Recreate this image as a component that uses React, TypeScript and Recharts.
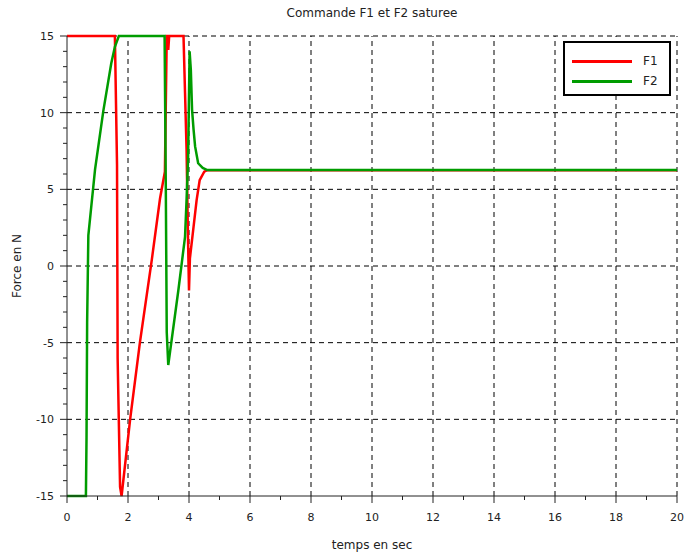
import React from "react";
import { LineChart, Line, XAxis, YAxis, Legend, ReferenceLine, Label } from "recharts";

// F1 (red)
const f1Time = [0, 1.57, 1.64, 1.66, 1.74, 1.79, 2.07, 2.39, 2.78, 3.05, 3.21, 3.27, 3.3, 3.32, 3.35, 3.82, 3.87, 3.92, 3.96, 4.0, 4.03, 4.1, 4.25, 4.35, 4.5, 4.6, 20];
const f1Force = [15, 15, 6.6, -6, -14.4, -15, -10, -5, 0.4, 4.4, 6.15, 15, 15, 14.1, 15, 15, 11.3, 7.6, 2.6, -1.6, 0.5, 1.7, 4.3, 5.6, 6.15, 6.25, 6.25];

// F2 (green)
const f2Time = [0, 0.62, 0.64, 0.66, 0.7, 0.92, 1.19, 1.45, 1.57, 1.7, 3.2, 3.24, 3.27, 3.32, 3.65, 3.87, 3.92, 3.97, 4.02, 4.06, 4.1, 4.15, 4.2, 4.3, 4.45, 4.6, 20];
const f2Force = [-15, -15, -11.2, -3.7, 2.0, 6.3, 10.1, 13.2, 14.3, 15, 15, 5, -4.3, -6.46, -1.6, 1.9, 4.3, 7, 14, 12.8, 10.2, 8.9, 7.8, 6.7, 6.4, 6.26, 6.26];

const xTicks = Array.from({ length: 21 }, (_, i) => i);
const yTicks = Array.from({ length: 31 }, (_, i) => i - 15);
const xGrid = [2, 4, 6, 8, 10, 12, 14, 16, 18, 20];
const yGrid = [-10, -5, 0, 5, 10, 15];

const f1Data = f1Time.map((t, i) => ({ t, v: f1Force[i] }));
const f2Data = f2Time.map((t, i) => ({ t, v: f2Force[i] }));

const FONT = "'DejaVu Sans', sans-serif";
const AXIS = "#222";

const XTick = (props: any) => {
  const { x, y, payload } = props;
  const major = payload.value % 2 === 0;
  return (
    <g>
      <line x1={x} x2={x} y1={y} y2={y + (major ? 7 : 4)} stroke={AXIS} />
      {major && (
        <text x={x} y={y + 25} textAnchor="middle" fontSize={11} fontFamily={FONT} fill="#222">
          {payload.value}
        </text>
      )}
    </g>
  );
};

const YTick = (props: any) => {
  const { x, y, payload } = props;
  const major = payload.value % 5 === 0;
  return (
    <g>
      <line x1={x - (major ? 7 : 4)} x2={x} y1={y} y2={y} stroke={AXIS} />
      {major && (
        <text x={x - 13} y={y + 4} textAnchor="end" fontSize={11} fontFamily={FONT} fill="#222">
          {payload.value}
        </text>
      )}
    </g>
  );
};

const LegendBox = (props: any) => {
  const { payload } = props;
  return (
    <div
      style={{
        boxSizing: "border-box",
        width: 108,
        height: 55,
        border: "2px solid #000",
        background: "#fff",
        paddingTop: 8,
      }}
    >
      {(payload || []).map((p: any) => (
        <div key={p.value} style={{ display: "flex", alignItems: "center", height: 20 }}>
          <div style={{ marginLeft: 7, width: 60, height: 3, background: p.color }} />
          <span style={{ marginLeft: 11, fontSize: 12, fontFamily: FONT, color: "#222" }}>{p.value}</span>
        </div>
      ))}
    </div>
  );
};

export default function App() {
  return (
    <div style={{ position: "absolute", left: 0, top: 0, width: 686, height: 557, background: "#fff" }}>
      <div
        style={{
          position: "absolute",
          left: 0,
          width: 744,
          top: 6,
          textAlign: "center",
          fontSize: 12,
          fontFamily: FONT,
          color: "#222",
        }}
      >
        Commande F1 et F2 saturee
      </div>
      <LineChart width={686} height={557} margin={{ top: 36, right: 9, left: 0, bottom: 0 }}>
        <XAxis
          dataKey="t"
          type="number"
          domain={[0, 20]}
          ticks={xTicks}
          interval={0}
          tickSize={0}
          tickMargin={0}
          tickLine={false}
          height={61}
          stroke={AXIS}
          tick={<XTick />}
        >
          <Label
            content={(p: any) => {
              const vb = p.viewBox;
              return (
                <text x={vb.x + vb.width / 2} y={vb.y + 53} textAnchor="middle" fontSize={12} fontFamily={FONT} fill="#222">
                  temps en sec
                </text>
              );
            }}
          />
        </XAxis>
        <YAxis
          type="number"
          domain={[-15, 15]}
          ticks={yTicks}
          interval={0}
          tickSize={0}
          tickMargin={0}
          tickLine={false}
          width={67}
          stroke={AXIS}
          tick={<YTick />}
        >
          <Label
            content={(p: any) => {
              const vb = p.viewBox;
              const cx = vb.x + 17;
              const cy = vb.y + vb.height / 2;
              return (
                <text x={cx} y={cy} transform={`rotate(-90 ${cx} ${cy})`} textAnchor="middle" dominantBaseline="middle" fontSize={12} fontFamily={FONT} fill="#222">
                  Force en N
                </text>
              );
            }}
          />
        </YAxis>
        {xGrid.map((v) => (
          <ReferenceLine key={"x" + v} x={v} stroke="#000" strokeDasharray="5 4" />
        ))}
        {yGrid.map((v) => (
          <ReferenceLine key={"y" + v} y={v} stroke="#000" strokeDasharray="5 4" />
        ))}
        <Line data={f1Data} dataKey="v" name="F1" type="linear" stroke="#ff0000" strokeWidth={2.5} dot={false} isAnimationActive={false} />
        <Line data={f2Data} dataKey="v" name="F2" type="linear" stroke="#009c00" strokeWidth={2.5} dot={false} isAnimationActive={false} />
        <Legend
          layout="vertical"
          align="center"
          verticalAlign="middle"
          content={<LegendBox />}
          wrapperStyle={{ left: 563, top: 41, width: 108, height: 55 }}
        />
      </LineChart>
    </div>
  );
}
